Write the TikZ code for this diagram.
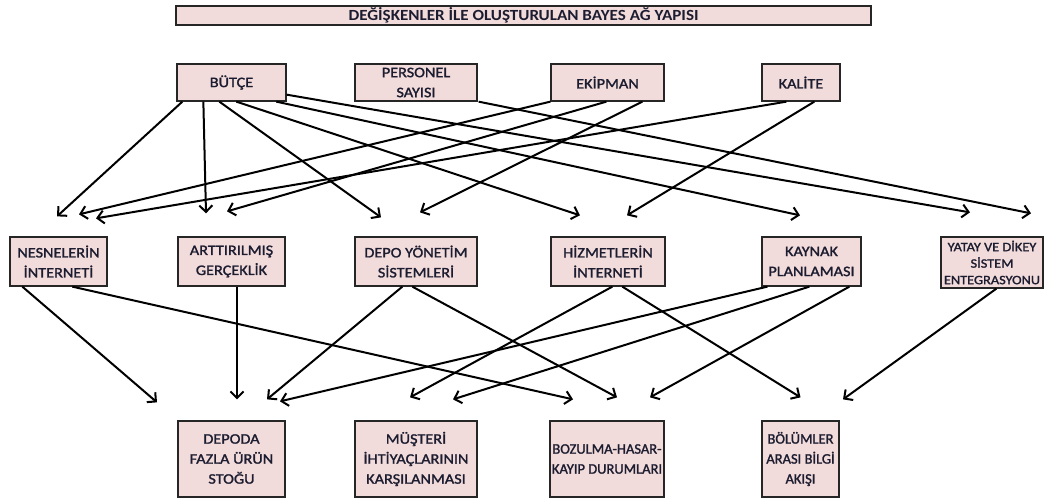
\documentclass[tikz,border=0pt]{standalone}
\usepackage{fontspec}
\setmainfont{Carlito}
\newfontfamily\boxfont{Carlito}[FakeStretch=1.12, FakeBold=1.5]
\newfontfamily\boxfontn{Carlito}[FakeBold=1.5]
\newfontfamily\titlefont{Carlito}[FakeStretch=1.1]
\usetikzlibrary{arrows.meta,calc}
\definecolor{boxfill}{HTML}{F2DCDB}
\definecolor{boxline}{HTML}{262626}
\definecolor{txt}{HTML}{1C1C30}
\tikzset{
  box/.style={draw=boxline, line width=1.3pt, fill=boxfill, text=txt, align=center,
    inner sep=0pt, font=\boxfont\fontsize{14.5}{20}\selectfont},
  narrowbox/.style={box, font=\boxfontn\fontsize{14.5}{20}\selectfont},
  smallbox/.style={box, font=\boxfont\fontsize{12.8}{16.5}\selectfont},
  titlebox/.style={box, font=\titlefont\bfseries\fontsize{15.5}{16}\selectfont},
  arr/.style={draw=black, line width=2pt, -{Straight Barb[length=6.5pt,width=13pt,line width=2pt]}},
}
\begin{document}
\begin{tikzpicture}[x=1pt,y=-1pt]
\useasboundingbox (0,0) rectangle (1046,503);
% title
\node[titlebox, minimum width=695pt, minimum height=19pt] (title) at (523.5,15.5) {DEĞİŞKENLER İLE OLUŞTURULAN BAYES AĞ YAPISI};
% top row
\node[box, minimum width=109pt, minimum height=37pt] (but) at (231.5,82.5) {BÜTÇE};
\node[box, minimum width=122pt, minimum height=37pt] (per) at (416,82.5) {PERSONEL\\SAYISI};
\node[box, minimum width=113pt, minimum height=37pt] (eki) at (607.5,82.5) {EKİPMAN};
\node[box, minimum width=78pt, minimum height=37pt] (kal) at (801,82.5) {KALİTE};
% middle row
\node[box, minimum width=97pt, minimum height=49pt] (nes) at (58.5,261.5) {NESNELERİN\\İNTERNETİ};
\node[box, minimum width=107pt, minimum height=49pt] (art) at (231.5,261.5) {ARTTIRILMIŞ\\GERÇEKLİK};
\node[box, minimum width=122pt, minimum height=49pt] (dep) at (416,261.5) {DEPO YÖNETİM\\SİSTEMLERİ};
\node[box, minimum width=114pt, minimum height=49pt] (hiz) at (608,261.5) {HİZMETLERİN\\İNTERNETİ};
\node[box, minimum width=99pt, minimum height=49pt] (kay) at (811.5,261.5) {KAYNAK\\PLANLAMASI};
\node[smallbox, minimum width=102pt, minimum height=51pt] (yat) at (992,262.5) {YATAY VE DİKEY\\SİSTEM\\ENTEGRASYONU};
% bottom row
\node[box, minimum width=107pt, minimum height=76pt] (dfu) at (231.5,459) {DEPODA\\FAZLA ÜRÜN\\STOĞU};
\node[box, minimum width=122pt, minimum height=76pt] (mus) at (416,459) {MÜŞTERİ\\İHTİYAÇLARININ\\KARŞILANMASI};
\node[narrowbox, minimum width=114pt, minimum height=76pt] (boz) at (607,459) {BOZULMA-HASAR-\\KAYIP DURUMLARI};
\node[narrowbox, minimum width=77pt, minimum height=76pt] (bol) at (800.5,459) {BÖLÜMLER\\ARASI BİLGİ\\AKIŞI};
% top -> middle
\draw[arr] ($(but.south west)+(6,0)$)   -- ($(nes.north)+(-1.5,-20)$);
\draw[arr] ($(but.south west)+(27,0)$)  -- ($(art.north)+(-25.5,-23)$);
\draw[arr] ($(but.south west)+(43,0)$)  -- ($(dep.north)+(-35,-19)$);
\draw[arr] ($(but.south west)+(60,0)$)  -- ($(hiz.north)+(-28,-21)$);
\draw[arr] ($(but.south west)+(100,0)$) -- ($(kay.north)+(-11.5,-21)$);
\draw[arr] ($(but.south east)+(0,-7)$)  -- ($(yat.north)+(-22,-24)$);
\draw[arr] ($(per.south east)+(1,0)$)   -- ($(yat.north)+(39,-23)$);
\draw[arr] (eki.south west)             -- ($(nes.north)+(20.5,-22)$);
\draw[arr] ($(eki.south west)+(56,0)$)  -- ($(art.north)+(-4.5,-25)$);
\draw[arr] ($(eki.south west)+(92,0)$)  -- ($(dep.north)+(4,-24)$);
\draw[arr] ($(kal.south west)+(25,0)$)  -- ($(nes.north)+(37.5,-18)$);
\draw[arr] ($(kal.south west)+(53,0)$)  -- ($(hiz.north)+(19,-21)$);
% middle -> bottom
\draw[arr] ($(nes.south west)+(13,0)$)  -- ($(dfu.north)+(-74.5,-18)$);
\draw[arr] ($(nes.south west)+(63,0)$)  -- ($(boz.north)+(-34,-21)$);
\draw[arr] ($(art.south)+(5.5,0)$)      -- ($(dfu.north)+(5.5,-21)$);
\draw[arr] ($(dep.south west)+(48,0)$)  -- ($(dfu.north)+(35.5,-21)$);
\draw[arr] ($(dep.south west)+(58,0)$)  -- ($(boz.north)+(10,-23)$);
\draw[arr] ($(hiz.south west)+(62,0)$)  -- ($(mus.north)+(-6,-23)$);
\draw[arr] ($(hiz.south west)+(72,0)$)  -- ($(bol.north)+(0,-23)$);
\draw[arr] ($(kay.south west)+(6,0)$)   -- ($(dfu.north)+(48.5,-19)$);
\draw[arr] ($(kay.south west)+(48,0)$)  -- ($(mus.north)+(37,-21)$);
\draw[arr] ($(kay.south west)+(88,0)$)  -- ($(boz.north)+(43,-23)$);
\draw[arr] ($(yat.south west)+(56,0)$)  -- ($(bol.north)+(42.5,-21)$);
\end{tikzpicture}
\end{document}
